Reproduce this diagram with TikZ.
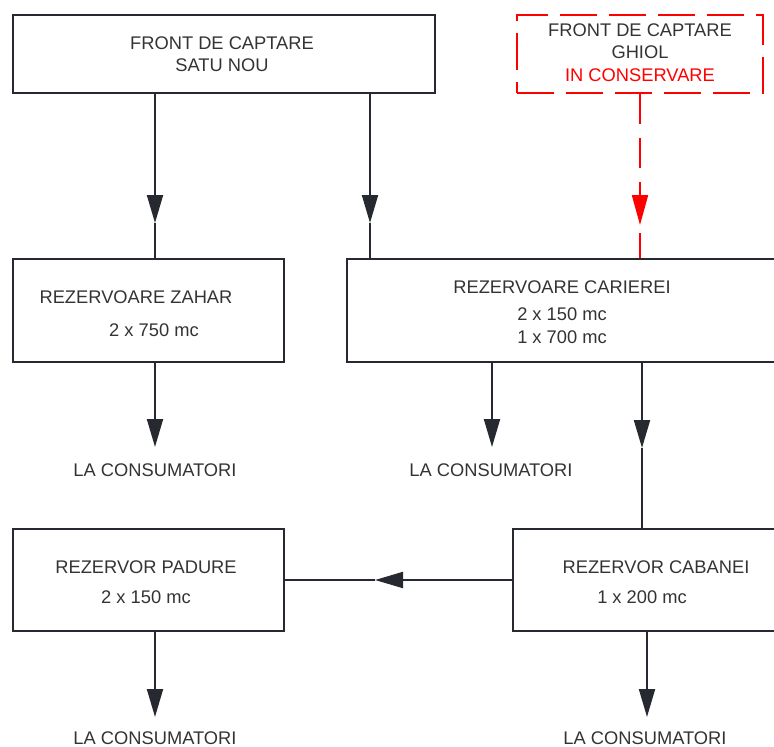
\documentclass[tikz,border=0pt]{standalone}
\usepackage{fontspec}
\setmainfont{Liberation Sans}
\usetikzlibrary{arrows.meta}
\definecolor{ln}{HTML}{262A30}
\definecolor{tx}{HTML}{333333}
\definecolor{rd}{HTML}{FF0000}
\begin{document}
\begin{tikzpicture}[x=1pt,y=-1pt,
  box/.style={draw=ln, line width=2.2pt, inner sep=0pt, anchor=north west},
  rbox/.style={draw=rd, line width=2.2pt, inner sep=0pt, anchor=north west, dash pattern=on 37pt off 12pt},
  conn/.style={draw=ln, line width=2pt},
  arr/.style={conn, -{Triangle[length=28pt,width=16pt]}},
  rconn/.style={draw=rd, line width=2pt, dash pattern=on 30pt off 14pt},
  rarr/.style={rconn, -{Triangle[length=30pt,width=16pt]}},
  txt/.style={text=tx, font=\fontsize{18.3}{22.5}\selectfont, inner sep=0pt, align=center}]
\useasboundingbox (0,0) rectangle (774,747);
% boxes
\node[box, minimum width=422pt, minimum height=78pt] (front) at (12,14) {};
\node[rbox, minimum width=246pt, minimum height=78pt] (ghiol) at (516,14) {};
\node[box, minimum width=271pt, minimum height=103pt] (zahar) at (12,258) {};
\node[box, minimum width=432pt, minimum height=103pt] (carierei) at (346,258) {};
\node[box, minimum width=271pt, minimum height=102pt] (padure) at (12,528) {};
\node[box, minimum width=266pt, minimum height=102pt] (cabanei) at (512,528) {};
% texts
\node[txt] (frontt) at (222,54) {FRONT DE CAPTARE\\SATU NOU};
\node[txt] (ghiolt) at (640,52.5) {FRONT DE CAPTARE\\GHIOL\\{\color{rd}IN CONSERVARE}};
\node[txt] (zahart1) at (136,297) {REZERVOARE ZAHAR};
\node[txt] (zahart2) at (154,330) {2 x 750 mc};
\node[txt] (cariert1) at (562,287) {REZERVOARE CARIEREI};
\node[txt] (cariert2) at (562,314) {2 x 150 mc};
\node[txt] (cariert3) at (562,337) {1 x 700 mc};
\node[txt] (padt1) at (146,567) {REZERVOR PADURE};
\node[txt] (padt2) at (146,597) {2 x 150 mc};
\node[txt] (cabt1) at (656,567) {REZERVOR CABANEI};
\node[txt] (cabt2) at (642,597) {1 x 200 mc};
\node[txt] (lc1) at (155,470) {LA CONSUMATORI};
\node[txt] (lc2) at (491,470) {LA CONSUMATORI};
\node[txt] (lc3) at (155,738) {LA CONSUMATORI};
\node[txt] (lc4) at (645,738) {LA CONSUMATORI};
% coordinates
\coordinate (t1) at (155,223);
\coordinate (t2) at (370,223);
\coordinate (t3) at (640,225);
\coordinate (t4) at (642,448);
\coordinate (t5) at (375,580);
\coordinate (e1) at (155,447);
\coordinate (e2) at (492,447);
\coordinate (e3) at (155,717);
\coordinate (e4) at (647,717);
% connectors
\draw[arr] (front.south -| t1) -- (t1);
\draw[conn] (t1) -- (zahar.north -| t1);
\draw[arr] (front.south -| t2) -- (t2);
\draw[conn] (t2) -- (carierei.north -| t2);
\draw[rarr] (ghiol.south -| t3) -- (t3);
\draw[rconn, dash phase=36pt] (t3) -- (carierei.north -| t3);
\draw[arr] (zahar.south -| e1) -- (e1);
\draw[arr] (carierei.south -| e2) -- (e2);
\draw[arr] (carierei.south -| t4) -- (t4);
\draw[conn] (t4) -- (cabanei.north -| t4);
\draw[arr] (cabanei.west |- t5) -- (t5);
\draw[conn] (t5) -- (padure.east |- t5);
\draw[arr] (padure.south -| e3) -- (e3);
\draw[arr] (cabanei.south -| e4) -- (e4);
\end{tikzpicture}
\end{document}
